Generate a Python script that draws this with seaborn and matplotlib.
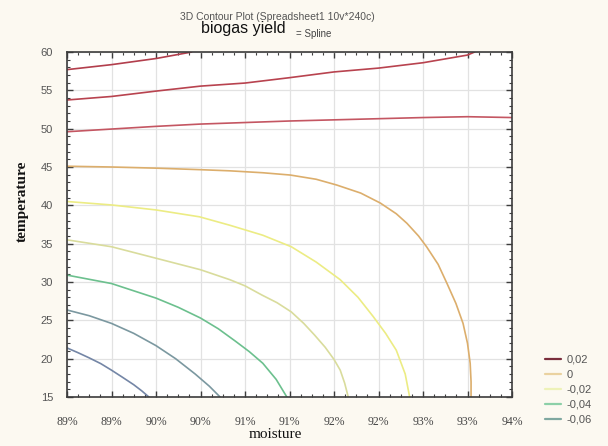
import numpy as np
import pandas as pd
import matplotlib
matplotlib.use("Agg")
import matplotlib.pyplot as plt
from matplotlib.ticker import FuncFormatter, AutoMinorLocator
from matplotlib.lines import Line2D
import seaborn as sns

# ---- data: contour lines (moisture %, temperature) ----
levels = [0.06, 0.04, 0.02, 0.0, -0.02, -0.04, -0.06, -0.08, -0.10]

m_p06 = [89.0, 89.5, 90.0, 90.4]
t_p06 = [57.7, 58.35, 59.15, 60.0]

m_p04 = [89.0, 89.5, 90.0, 90.5, 91.0, 91.5, 92.0, 92.5, 93.0, 93.5, 93.58]
t_p04 = [53.74, 54.2, 54.9, 55.55, 55.95, 56.65, 57.4, 57.9, 58.6, 59.6, 60.0]

m_p02 = [89.0, 89.5, 90.0, 90.5, 91.0, 91.5, 92.0, 92.5, 93.0, 93.5, 94.0]
t_p02 = [49.6, 49.95, 50.3, 50.6, 50.8, 51.0, 51.15, 51.3, 51.45, 51.56, 51.45]

m_0 = [89.0, 89.5, 90.0, 90.5, 90.83, 91.2, 91.51, 91.8, 92.03, 92.3, 92.52, 92.7,
       92.82, 92.95, 93.04, 93.17, 93.27, 93.37, 93.45, 93.5, 93.53, 93.54, 93.54]
t_0 = [45.1, 45.0, 44.85, 44.65, 44.5, 44.25, 43.95, 43.4, 42.65, 41.6, 40.3, 38.9,
       37.65, 36.0, 34.6, 32.3, 29.8, 27.2, 24.6, 22.0, 19.4, 17.0, 15.0]

m_n02 = [89.0, 89.5, 90.0, 90.49, 90.83, 91.2, 91.52, 91.8, 92.07, 92.27, 92.44,
         92.58, 92.7, 92.8, 92.85]
t_n02 = [40.5, 40.05, 39.4, 38.5, 37.4, 36.1, 34.6, 32.6, 30.3, 28.0, 25.5,
         23.3, 21.1, 18.0, 15.0]

m_n04 = [89.0, 89.5, 90.0, 90.5, 90.83, 91.0, 91.19, 91.36, 91.52, 91.66, 91.78,
         91.9, 92.0, 92.07, 92.12, 92.16]
t_n04 = [35.5, 34.6, 33.1, 31.6, 30.3, 29.5, 28.3, 27.3, 26.1, 24.6, 23.1,
         21.5, 19.9, 18.5, 16.8, 15.0]

m_n06 = [89.0, 89.5, 90.0, 90.25, 90.5, 90.7, 90.89, 91.05, 91.2, 91.35, 91.47]
t_n06 = [30.9, 29.8, 27.9, 26.7, 25.3, 23.9, 22.3, 20.9, 19.4, 17.3, 15.0]

m_n08 = [89.0, 89.25, 89.5, 89.75, 90.0, 90.22, 90.44, 90.6, 90.72]
t_n08 = [26.35, 25.6, 24.6, 23.3, 21.7, 20.0, 18.0, 16.4, 15.0]

m_n10 = [89.0, 89.12, 89.25, 89.38, 89.5, 89.62, 89.75, 89.84, 89.92]
t_n10 = [21.4, 20.8, 20.1, 19.35, 18.5, 17.6, 16.6, 15.8, 15.0]

x_ticks = [89.0, 89.5, 90.0, 90.5, 91.0, 91.5, 92.0, 92.5, 93.0, 93.5, 94.0]
y_ticks = [15, 20, 25, 30, 35, 40, 45, 50, 55, 60]

legend_labels = ["0,02", "0", "-0,02", "-0,04", "-0,06"]

# ---- styling ----
line_colors = {0.06: "#b23e4c", 0.04: "#b8434f", 0.02: "#c45662", 0.0: "#dcae6c",
               -0.02: "#ecec84", -0.04: "#d9dc9c", -0.06: "#6cc08e",
               -0.08: "#7b98a0", -0.10: "#7486a6"}
legend_colors = ["#7a2e3c", "#ead2a0", "#eef2b8", "#8cd0a8", "#7fa8a0"]

series = [(0.06, m_p06, t_p06), (0.04, m_p04, t_p04), (0.02, m_p02, t_p02),
          (0.0, m_0, t_0), (-0.02, m_n02, t_n02), (-0.04, m_n04, t_n04),
          (-0.06, m_n06, t_n06), (-0.08, m_n08, t_n08), (-0.10, m_n10, t_n10)]
rows = []
for lvl, ms, ts in series:
    for mm, tt in zip(ms, ts):
        rows.append({"moisture": mm, "temperature": tt, "level": lvl})
df = pd.DataFrame(rows)

sns.set_theme(style="white")
plt.rcParams["font.family"] = ["Liberation Sans", "DejaVu Sans"]

fig = plt.figure(figsize=(6.08, 4.46), dpi=100, facecolor="#fcf9f1")
ax = fig.add_axes([67 / 608, 1 - 397 / 446, 445 / 608, 345 / 446])
ax.set_facecolor("white")

for lvl in levels:
    sub = df[df["level"] == lvl]
    sns.lineplot(data=sub, x="moisture", y="temperature", sort=False, estimator=None,
                 color=line_colors[lvl], linewidth=1.2, ax=ax, legend=False)

ax.set_xlim(89, 94)
ax.set_ylim(15, 60)
ax.set_xticks(x_ticks)
ax.set_yticks(y_ticks)
ax.xaxis.set_major_formatter(FuncFormatter(lambda v, p: f"{int(np.floor(v + 1e-9))}%"))
ax.xaxis.set_minor_locator(AutoMinorLocator(4))
ax.yaxis.set_minor_locator(AutoMinorLocator(5))
ax.grid(True, which="major", color="#e2e2e2", linewidth=0.9)
ax.set_axisbelow(True)
for s in ax.spines.values():
    s.set_color("#3c3c3c")
    s.set_linewidth(1.2)
ax.tick_params(which="both", direction="in", top=True, right=True, bottom=True, left=True,
               color="#3c3c3c")
ax.tick_params(which="major", length=4, width=1.0)
ax.tick_params(which="minor", length=2.5, width=0.8)
ax.tick_params(axis="x", labelsize=8.5, labelcolor="#444444", pad=14)
ax.tick_params(axis="y", labelsize=8, labelcolor="#555555", pad=10)
for lab in ax.get_xticklabels():
    lab.set_fontfamily(["Liberation Serif", "DejaVu Serif"])

ax.set_xlabel("moisture", fontsize=11, family=["Liberation Serif", "DejaVu Serif"],
              color="#111111", va="center")
ax.set_ylabel("temperature", fontsize=11, family=["Liberation Serif", "DejaVu Serif"],
              color="#111111", fontweight="bold", va="center")
ax.xaxis.set_label_coords((275 - 67) / 445, -(435 - 397) / 345)
ax.yaxis.set_label_coords(-(67 - 22) / 445, (397 - 201) / 345)

fig.text(277 / 608, 1 - 17 / 446, "3D Contour Plot (Spreadsheet1 10v*240c)",
         ha="center", va="center", fontsize=7.5, color="#555555")
fig.text(201 / 608, 1 - 28 / 446, "biogas yield", ha="left", va="center",
         fontsize=11.5, color="#111111")
fig.text(296 / 608, 1 - 34 / 446, "= Spline", ha="left", va="center",
         fontsize=7, color="#444444")

handles = [Line2D([0], [0], color=c, linewidth=1.6) for c in legend_colors]
fig.legend(handles, legend_labels, loc="upper left",
           bbox_to_anchor=(539 / 608, 1 - 349 / 446), frameon=False,
           fontsize=8, labelcolor="#555555", handlelength=1.45, handletextpad=0.5,
           labelspacing=0.45, borderpad=0)

fig.savefig("out.png", dpi=100, facecolor=fig.get_facecolor())
